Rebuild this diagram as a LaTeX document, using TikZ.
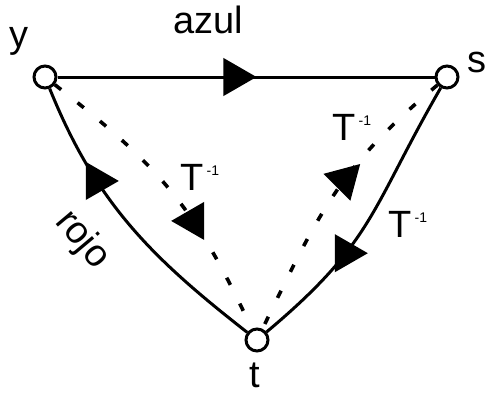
\documentclass[tikz,border=0pt]{standalone}
\usepackage{fontspec}
\setmainfont{Liberation Sans}
\usetikzlibrary{shapes.geometric}
\tikzset{
  vertice/.style={circle,draw,line width=1.5pt,fill=white,minimum size=11pt,inner sep=0pt},
  arista/.style={line width=1.5pt},
  punteada/.style={line width=1.8pt,dash pattern=on 4pt off 10.5pt},
  flecha/.style={regular polygon,regular polygon sides=3,fill=black,draw=none,
    inner sep=0pt,minimum size=22pt,rotate={#1-90}},
  etiqueta/.style={font=\fontsize{19}{22}\selectfont,inner sep=0pt}
}
\newcommand{\Tinv}{T\hspace{1.5pt}\raisebox{7.5pt}{\fontsize{7}{8}\selectfont -1}}

\begin{document}
\begin{tikzpicture}[x=0.5pt,y=0.5pt]
\useasboundingbox (0,0) rectangle (487,393);
\node[vertice] (y) at (45,316) {};
\node[vertice] (s) at (447,316) {};
\node[vertice] (t) at (257,53) {};
\node[etiqueta,anchor=base] (ly) at (19,346) {y};
\node[etiqueta,anchor=base] (ls) at (477,321) {s};
\node[etiqueta,anchor=base] (lt) at (255,6) {t};
\node[etiqueta,anchor=base] (azul) at (208,360) {azul};
\node[etiqueta,rotate=-50] (rojo) at (82,153) {rojo};
\node[etiqueta,anchor=base west] (ty) at (180,203) {\Tinv};
\node[etiqueta,anchor=base west] (ts) at (332,253) {\Tinv};
\node[etiqueta,anchor=base west] (tc) at (388,156) {\Tinv};
% aristas
\draw[arista] (y) -- node[flecha=0,pos=0.48,yshift=-2pt] {} (s);
\draw[arista] (t) to[out=142,in=-68] node[flecha=0,pos=0.685] {} (y);
\draw[arista,looseness=1.2] (s) to[out=-120,in=40] node[flecha=0,pos=0.655] {} (t);
% punteadas
\draw[punteada,looseness=1.1] (y) to[out=-38,in=115] node[flecha=180,pos=0.63] {} (t);
\draw[punteada,looseness=1.1] (s) to[out=-140,in=64] node[flecha=165,pos=0.43] {} (t);
\end{tikzpicture}
\end{document}
